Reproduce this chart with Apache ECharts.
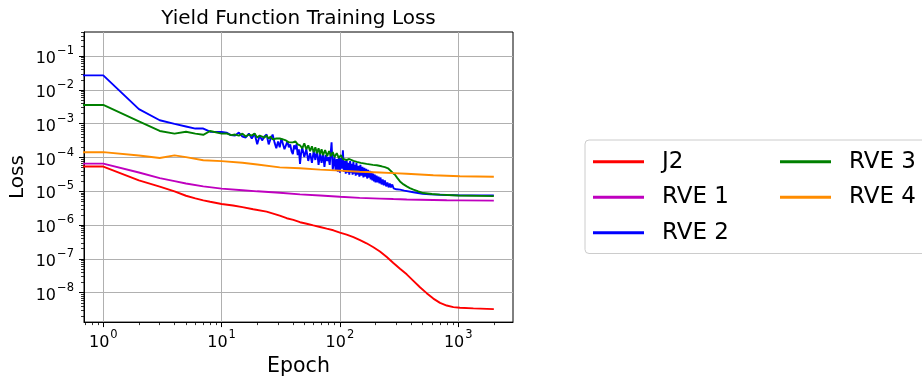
<!DOCTYPE html>
<html>
<head>
<meta charset="utf-8">
<script src="https://cdn.jsdelivr.net/npm/echarts@6/dist/echarts.min.js"></script>
<style>
  html, body { margin: 0; padding: 0; background: #ffffff; }
  #chart { width: 922px; height: 382px; }
</style>
</head>
<body>
<div id="chart"></div>
<script>
// Training loss per epoch for the yield-function models (log-log).
// The 0.5 entry carries the first logged loss back to the left edge of the plot.
const j2Epochs = [0.5, 1, 2, 3, 4, 5, 6, 7, 8, 10, 12.5, 15, 18.5, 24, 31, 35.5, 40.4, 46, 52.4, 59.6, 67.9, 77.3, 88,
  100, 114, 130, 148, 168, 192, 218, 249, 283, 322, 367, 418, 475, 541, 616, 702, 799, 910, 1035, 1343, 2000];
const j2Loss = [5.4e-5, 5.4e-5, 2.1e-5, 1.38e-5, 1.0e-5, 7.4e-6, 6.2e-6, 5.4e-6, 4.9e-6, 4.2e-6, 3.8e-6, 3.4e-6, 2.95e-6, 2.5e-6, 1.9e-6, 1.6e-6, 1.43e-6, 1.22e-6, 1.1e-6, 9.8e-7, 8.8e-7, 7.85e-7, 7.03e-7,
  6.02e-7, 5.26e-7, 4.41e-7, 3.61e-7, 2.9e-7, 2.22e-7, 1.66e-7, 1.14e-7, 7.6e-8, 5.1e-8, 3.5e-8, 2.25e-8, 1.45e-8, 9.7e-9, 6.7e-9, 5.0e-9, 4.18e-9, 3.74e-9, 3.58e-9, 3.43e-9, 3.27e-9];

const smoothEpochs = [0.5, 1, 2, 3, 4, 5, 7, 10, 15, 20, 31, 46, 68, 100, 147, 218, 283, 367, 475, 616, 800, 1035, 2000];
const rve1Loss = [6.6e-5, 6.6e-5, 3.6e-5, 2.45e-5, 2.0e-5, 1.7e-5, 1.4e-5, 1.2e-5, 1.08e-5, 1.0e-5, 9.1e-6, 8.1e-6, 7.5e-6, 6.9e-6, 6.4e-6, 6.1e-6, 5.9e-6, 5.75e-6, 5.65e-6, 5.55e-6, 5.45e-6, 5.4e-6, 5.3e-6];
const rve4Loss = [1.44e-4, 1.44e-4, 1.15e-4, 9.7e-5, 1.16e-4, 1.03e-4, 8.3e-5, 7.8e-5, 7.0e-5, 6.2e-5, 5.1e-5, 4.8e-5, 4.4e-5, 4.1e-5, 3.8e-5, 3.6e-5, 3.45e-5, 3.3e-5, 3.15e-5, 3.0e-5, 2.9e-5, 2.8e-5, 2.7e-5];

const rve2Epochs = [0.5, 1, 2, 3, 4, 5, 6, 7, 8, 10, 11, 12, 13, 14, 15, 16, 17, 18, 19, 20,
  21, 22, 23, 24, 25, 26, 27, 28, 29, 30, 31, 32, 33, 34, 35, 36, 37, 38, 39, 40,
  41, 42, 43, 44, 45, 46, 47, 48, 50, 52, 54, 56, 58, 60, 62, 64, 66, 68, 70, 72,
  74, 76, 78, 80, 82, 85, 87, 90, 92, 94, 96, 98, 100, 102, 104, 106, 108, 110, 112, 114,
  116, 118, 120, 122, 124, 126, 128, 130, 132, 134, 136, 138, 140, 143, 146, 149, 152, 155, 158, 161,
  164, 167, 170, 173, 176, 179, 182, 185, 188, 191, 194, 197, 200, 204, 208, 212, 216, 220, 225, 230,
  235, 240, 246, 252, 258, 264, 270, 277, 284, 292, 300, 322, 350, 418, 500, 575, 800, 1035, 2000];
const rve2Loss = [0.027, 0.027, 0.0027, 0.00127, 0.00099, 0.00083, 0.00072, 0.00072, 0.00058, 0.00057, 0.000545, 0.00046, 4.47e-4, 5.46e-4, 4.18e-4, 3.91e-4, 5.11e-4, 3.66e-4, 5.11e-4, 2.46e-4,
  4.47e-4, 3.21e-4, 4.18e-4, 4.78e-4, 2.46e-4, 3.66e-4, 4.78e-4, 2.81e-4, 1.88e-4, 3.0e-4, 2.01e-4, 3.66e-4, 3.21e-4, 1.76e-4, 1.65e-4, 3.0e-4, 2.01e-4, 2.46e-4, 1.54e-4, 1.26e-4,
  2.3e-4, 1.76e-4, 2.46e-4, 1.18e-4, 1.76e-4, 6.49e-5, 1.35e-4, 2.01e-4, 1.03e-4, 1.76e-4, 7.92e-5, 1.35e-4, 6.93e-5, 1.54e-4, 8.47e-5, 1.65e-4, 6.07e-5, 1.26e-4, 6.93e-5, 1.35e-4,
  5.31e-5, 1.18e-4, 7.92e-5, 1.03e-4, 6.07e-5, 2.81e-4, 4.35e-5, 1.03e-4, 4.07e-5, 9.05e-5, 3.81e-5, 1.1e-4, 3.56e-5, 9.67e-5, 4.65e-5, 1.65e-4, 3.81e-5, 7.92e-5, 3.33e-5, 8.47e-5,
  3.56e-5, 6.93e-5, 3.12e-5, 7.92e-5, 3.56e-5, 6.49e-5, 3.12e-5, 7.41e-5, 3.33e-5, 6.07e-5, 2.92e-5, 6.93e-5, 3.12e-5, 5.68e-5, 2.73e-5, 6.07e-5, 2.92e-5, 5.31e-5, 2.56e-5, 4.97e-5,
  2.73e-5, 4.65e-5, 2.39e-5, 4.35e-5, 2.56e-5, 4.07e-5, 2.24e-5, 3.81e-5, 2.09e-5, 3.33e-5, 1.96e-5, 3.12e-5, 1.83e-5, 2.92e-5, 1.83e-5, 2.73e-5, 1.71e-5, 2.56e-5, 1.6e-5, 2.24e-5,
  1.5e-5, 2.09e-5, 1.4e-5, 1.83e-5, 1.31e-5, 1.71e-5, 1.31e-5, 1.6e-5, 1.23e-5, 1.4e-5, 1.15e-5, 1.12e-5, 1.05e-5, 9.42e-6, 8.5e-6, 8.1e-6, 7.8e-6, 7.6e-6, 7.6e-6];

const rve3Epochs = [0.5, 1, 2, 3, 4, 5, 6, 7, 8, 10, 11, 12, 13, 14, 15, 16, 17, 18, 19, 20,
  21, 22, 23, 24, 25, 26, 27, 28, 29, 30, 31, 32, 33, 35, 37, 38, 40, 42, 44, 46,
  48, 50, 52, 54, 56, 58, 60, 62, 64, 66, 68, 70, 72, 75, 78, 81, 84, 87, 90, 94,
  98, 102, 106, 110, 114, 120, 130, 139, 150, 168, 190, 205, 225, 240, 255, 265, 280, 292, 305, 322,
  345, 367, 390, 418, 460, 506, 600, 700, 1000, 2000];
const rve3Loss = [0.0036, 0.0036, 0.00117, 0.00061, 0.00051, 0.00058, 0.00051, 0.00047, 0.00061, 0.00051, 0.00052, 0.00046, 4.78e-4, 4.47e-4, 5.11e-4, 4.18e-4, 4.78e-4, 4.47e-4, 5.11e-4, 3.91e-4,
  4.47e-4, 4.18e-4, 3.91e-4, 4.47e-4, 3.66e-4, 4.18e-4, 3.43e-4, 3.91e-4, 3.66e-4, 3.43e-4, 3.66e-4, 3.21e-4, 3.43e-4, 3.21e-4, 2.81e-4, 3.21e-4, 2.81e-4, 3.0e-4, 2.46e-4, 2.3e-4,
  1.88e-4, 2.63e-4, 1.76e-4, 2.3e-4, 1.54e-4, 2.15e-4, 1.44e-4, 2.01e-4, 1.35e-4, 1.88e-4, 1.26e-4, 1.76e-4, 1.18e-4, 1.65e-4, 1.1e-4, 1.54e-4, 1.1e-4, 1.44e-4, 1.03e-4, 1.35e-4,
  9.67e-5, 1.18e-4, 9.05e-5, 1.03e-4, 8.47e-5, 9.05e-5, 7.92e-5, 7.41e-5, 6.93e-5, 6.49e-5, 6.07e-5, 5.9e-5, 5.5e-5, 5.2e-5, 4.8e-5, 4.3e-5, 3.5e-5, 3.1e-5, 2.5e-5, 1.96e-5,
  1.6e-5, 1.4e-5, 1.25e-5, 1.12e-5, 9.9e-6, 8.9e-6, 8.3e-6, 8.0e-6, 7.5e-6, 7.2e-6];

const seriesNames = ['J2', 'RVE 1', 'RVE 2', 'RVE 3', 'RVE 4'];
const seriesColors = ['#ff0000', '#bf00bf', '#0000ff', '#008000', '#ff8c00'];

// Axis ranges and tick positions
const epochRange = [0.687, 2904];
const lossRange = [1.35e-9, 0.518];
const epochMajor = [1, 10, 100, 1000];
const lossMajor = [1e-8, 1e-7, 1e-6, 1e-5, 1e-4, 1e-3, 1e-2, 1e-1];
const minorSteps = [2, 3, 4, 5, 6, 7, 8, 9];

function minorOf(decades) {
  const out = [];
  decades.forEach(d => minorSteps.forEach(m => out.push(d * m)));
  return out;
}
const epochMinor = minorOf([0.1, 1, 10, 100, 1000]);
const lossMinor = minorOf([1e-9, 1e-8, 1e-7, 1e-6, 1e-5, 1e-4, 1e-3, 1e-2, 1e-1]);

function pairs(xs, ys) { return xs.map((x, i) => [x, ys[i]]); }

const FONT = 'DejaVu Sans';

function powerLabel(v) {
  const e = Math.round(Math.log10(v));
  const exp = e < 0 ? '\u2212' + (-e) : String(e);
  return '{b|10}{s|' + exp + '}';
}
const labelRich = {
  b: { fontSize: 16, fontFamily: FONT, color: '#000', lineHeight: 22, verticalAlign: 'bottom' },
  s: { fontSize: 11.5, fontFamily: FONT, color: '#000', lineHeight: 9, verticalAlign: 'top', padding: [0, 0, 0, 1] }
};

const chart = echarts.init(document.getElementById('chart'), null, { renderer: 'canvas' });

const lineData = [
  pairs(j2Epochs, j2Loss),
  pairs(smoothEpochs, rve1Loss),
  pairs(rve2Epochs, rve2Loss),
  pairs(rve3Epochs, rve3Loss),
  pairs(smoothEpochs, rve4Loss)
];

chart.setOption({
  animation: false,
  backgroundColor: '#ffffff',
  title: {
    text: 'Yield Function Training Loss',
    left: 298.5, top: 8.5, padding: 0,
    textAlign: 'center',
    textStyle: { fontFamily: FONT, fontSize: 20, fontWeight: 'normal', color: '#000' }
  },
  grid: {
    left: 84, top: 32, right: 409, bottom: 53,
    show: true, borderColor: '#000', borderWidth: 1, backgroundColor: 'transparent'
  },
  legend: {
    orient: 'vertical',
    left: 585, top: 140, height: 100,
    padding: [9, 10, 8, 8],
    itemGap: 10, itemWidth: 51, itemHeight: 3,
    icon: 'rect',
    backgroundColor: '#ffffff', borderColor: '#cccccc', borderWidth: 1, borderRadius: 4,
    textStyle: { fontFamily: FONT, fontSize: 23, color: '#000', lineHeight: 25.5, padding: [0, 0, 0, 13], width: 108 },
    data: seriesNames
  },
  xAxis: [{
    type: 'log', logBase: 10, min: epochRange[0], max: epochRange[1],
    name: 'Epoch', nameLocation: 'middle', nameGap: 28,
    nameTextStyle: { fontFamily: FONT, fontSize: 20.5, color: '#000' },
    axisLine: { show: true, lineStyle: { color: '#000', width: 1 } },
    axisTick: { show: true, length: 5, customValues: epochMajor, lineStyle: { color: '#000', width: 1 } },
    axisLabel: { customValues: epochMajor, margin: 7, formatter: powerLabel, rich: labelRich },
    splitLine: { show: true, lineStyle: { color: '#b0b0b0', width: 1 } },
    minorTick: { show: false }
  }, {
    type: 'log', logBase: 10, min: epochRange[0], max: epochRange[1], position: 'bottom', offset: 0,
    axisLine: { show: false },
    axisTick: { show: true, length: 3, customValues: epochMinor, lineStyle: { color: '#000', width: 0.8 } },
    axisLabel: { show: false },
    splitLine: { show: false }
  }],
  yAxis: [{
    type: 'log', logBase: 10, min: lossRange[0], max: lossRange[1],
    name: 'Loss', nameLocation: 'middle', nameGap: 56,
    nameTextStyle: { fontFamily: FONT, fontSize: 20, color: '#000' },
    axisLine: { show: true, lineStyle: { color: '#000', width: 1 } },
    axisTick: { show: true, length: 5, customValues: lossMajor, lineStyle: { color: '#000', width: 1 } },
    axisLabel: { customValues: lossMajor, margin: 10, formatter: powerLabel, rich: labelRich },
    splitLine: { show: true, lineStyle: { color: '#b0b0b0', width: 1 } }
  }, {
    type: 'log', logBase: 10, min: lossRange[0], max: lossRange[1], position: 'left', offset: 0,
    axisLine: { show: false },
    axisTick: { show: true, length: 3, customValues: lossMinor, lineStyle: { color: '#000', width: 0.8 } },
    axisLabel: { show: false },
    splitLine: { show: false }
  }],
  series: seriesNames.map((name, i) => ({
    name: name,
    type: 'line',
    xAxisIndex: 0, yAxisIndex: 0,
    data: lineData[i],
    symbol: 'none',
    clip: true,
    color: seriesColors[i],
    lineStyle: { color: seriesColors[i], width: 1.9 },
    z: 2 + i
  }))
});
</script>
</body>
</html>
